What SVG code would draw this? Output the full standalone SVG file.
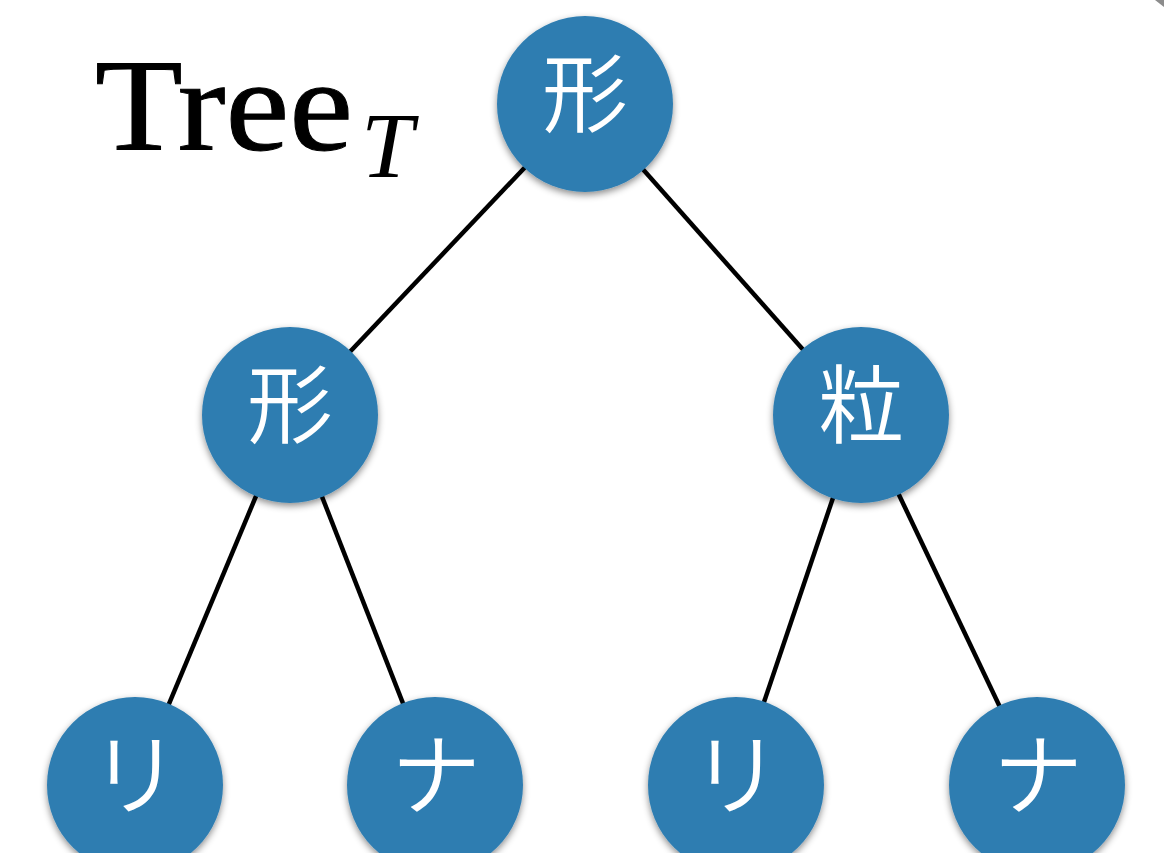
<svg xmlns="http://www.w3.org/2000/svg" width="1164" height="853" viewBox="0 0 1164 853">
  <style>
    .node circle { fill: #2e7db1; filter: url(#shadow); }
    .node text { fill: #ffffff; font-family: "Noto Sans CJK JP", "Noto Sans CJK SC", sans-serif; font-weight: 350; font-size: 86px; text-anchor: middle; }
    .node text.kana { font-size: 90px; }
    .edge { stroke: #000000; stroke-width: 4.5; fill: none; }
  </style>
  <defs>
    <filter id="shadow" x="-20%" y="-20%" width="140%" height="150%">
      <feDropShadow dx="0" dy="3" stdDeviation="3.5" flood-color="#000000" flood-opacity="0.45"/>
    </filter>
  </defs>

  <rect width="1164" height="853" fill="#ffffff"/>
  <polygon points="1155,0 1164,0 1164,7" fill="#8c8c8c"/>

  <!-- title -->
  <g id="title">
    <text x="95" y="150" font-family="'Liberation Serif', serif" font-size="132" textLength="258" lengthAdjust="spacingAndGlyphs" fill="#000" stroke="#000" stroke-width="1">Tree</text>
    <text x="361" y="177" font-family="'Liberation Serif', serif" font-style="italic" font-size="94" fill="#000">T</text>
  </g>

  <!-- connectors, drawn centre to centre beneath the nodes -->
  <g id="connectors">
    <line class="edge" x1="585" y1="104" x2="290" y2="415"/>
    <line class="edge" x1="585" y1="104" x2="861" y2="415"/>
    <line class="edge" x1="290" y1="415" x2="135" y2="785"/>
    <line class="edge" x1="290" y1="415" x2="435" y2="785"/>
    <line class="edge" x1="861" y1="415" x2="736" y2="785"/>
    <line class="edge" x1="861" y1="415" x2="1037" y2="785"/>
  </g>

  <g id="root" class="node">
    <circle cx="585" cy="104" r="88"/>
    <text x="585" y="126">形</text>
  </g>
  <g id="mid-left" class="node">
    <circle cx="290" cy="415" r="88"/>
    <text x="290" y="437">形</text>
  </g>
  <g id="mid-right" class="node">
    <circle cx="861" cy="415" r="88"/>
    <text x="861" y="437">粒</text>
  </g>
  <g id="leaf-1" class="node">
    <circle cx="135" cy="785" r="88"/>
    <text class="kana" x="135" y="808">リ</text>
  </g>
  <g id="leaf-2" class="node">
    <circle cx="435" cy="785" r="88"/>
    <text class="kana" x="436" y="808">ナ</text>
  </g>
  <g id="leaf-3" class="node">
    <circle cx="736" cy="785" r="88"/>
    <text class="kana" x="736" y="808">リ</text>
  </g>
  <g id="leaf-4" class="node">
    <circle cx="1037" cy="785" r="88"/>
    <text class="kana" x="1038" y="808">ナ</text>
  </g>
</svg>
